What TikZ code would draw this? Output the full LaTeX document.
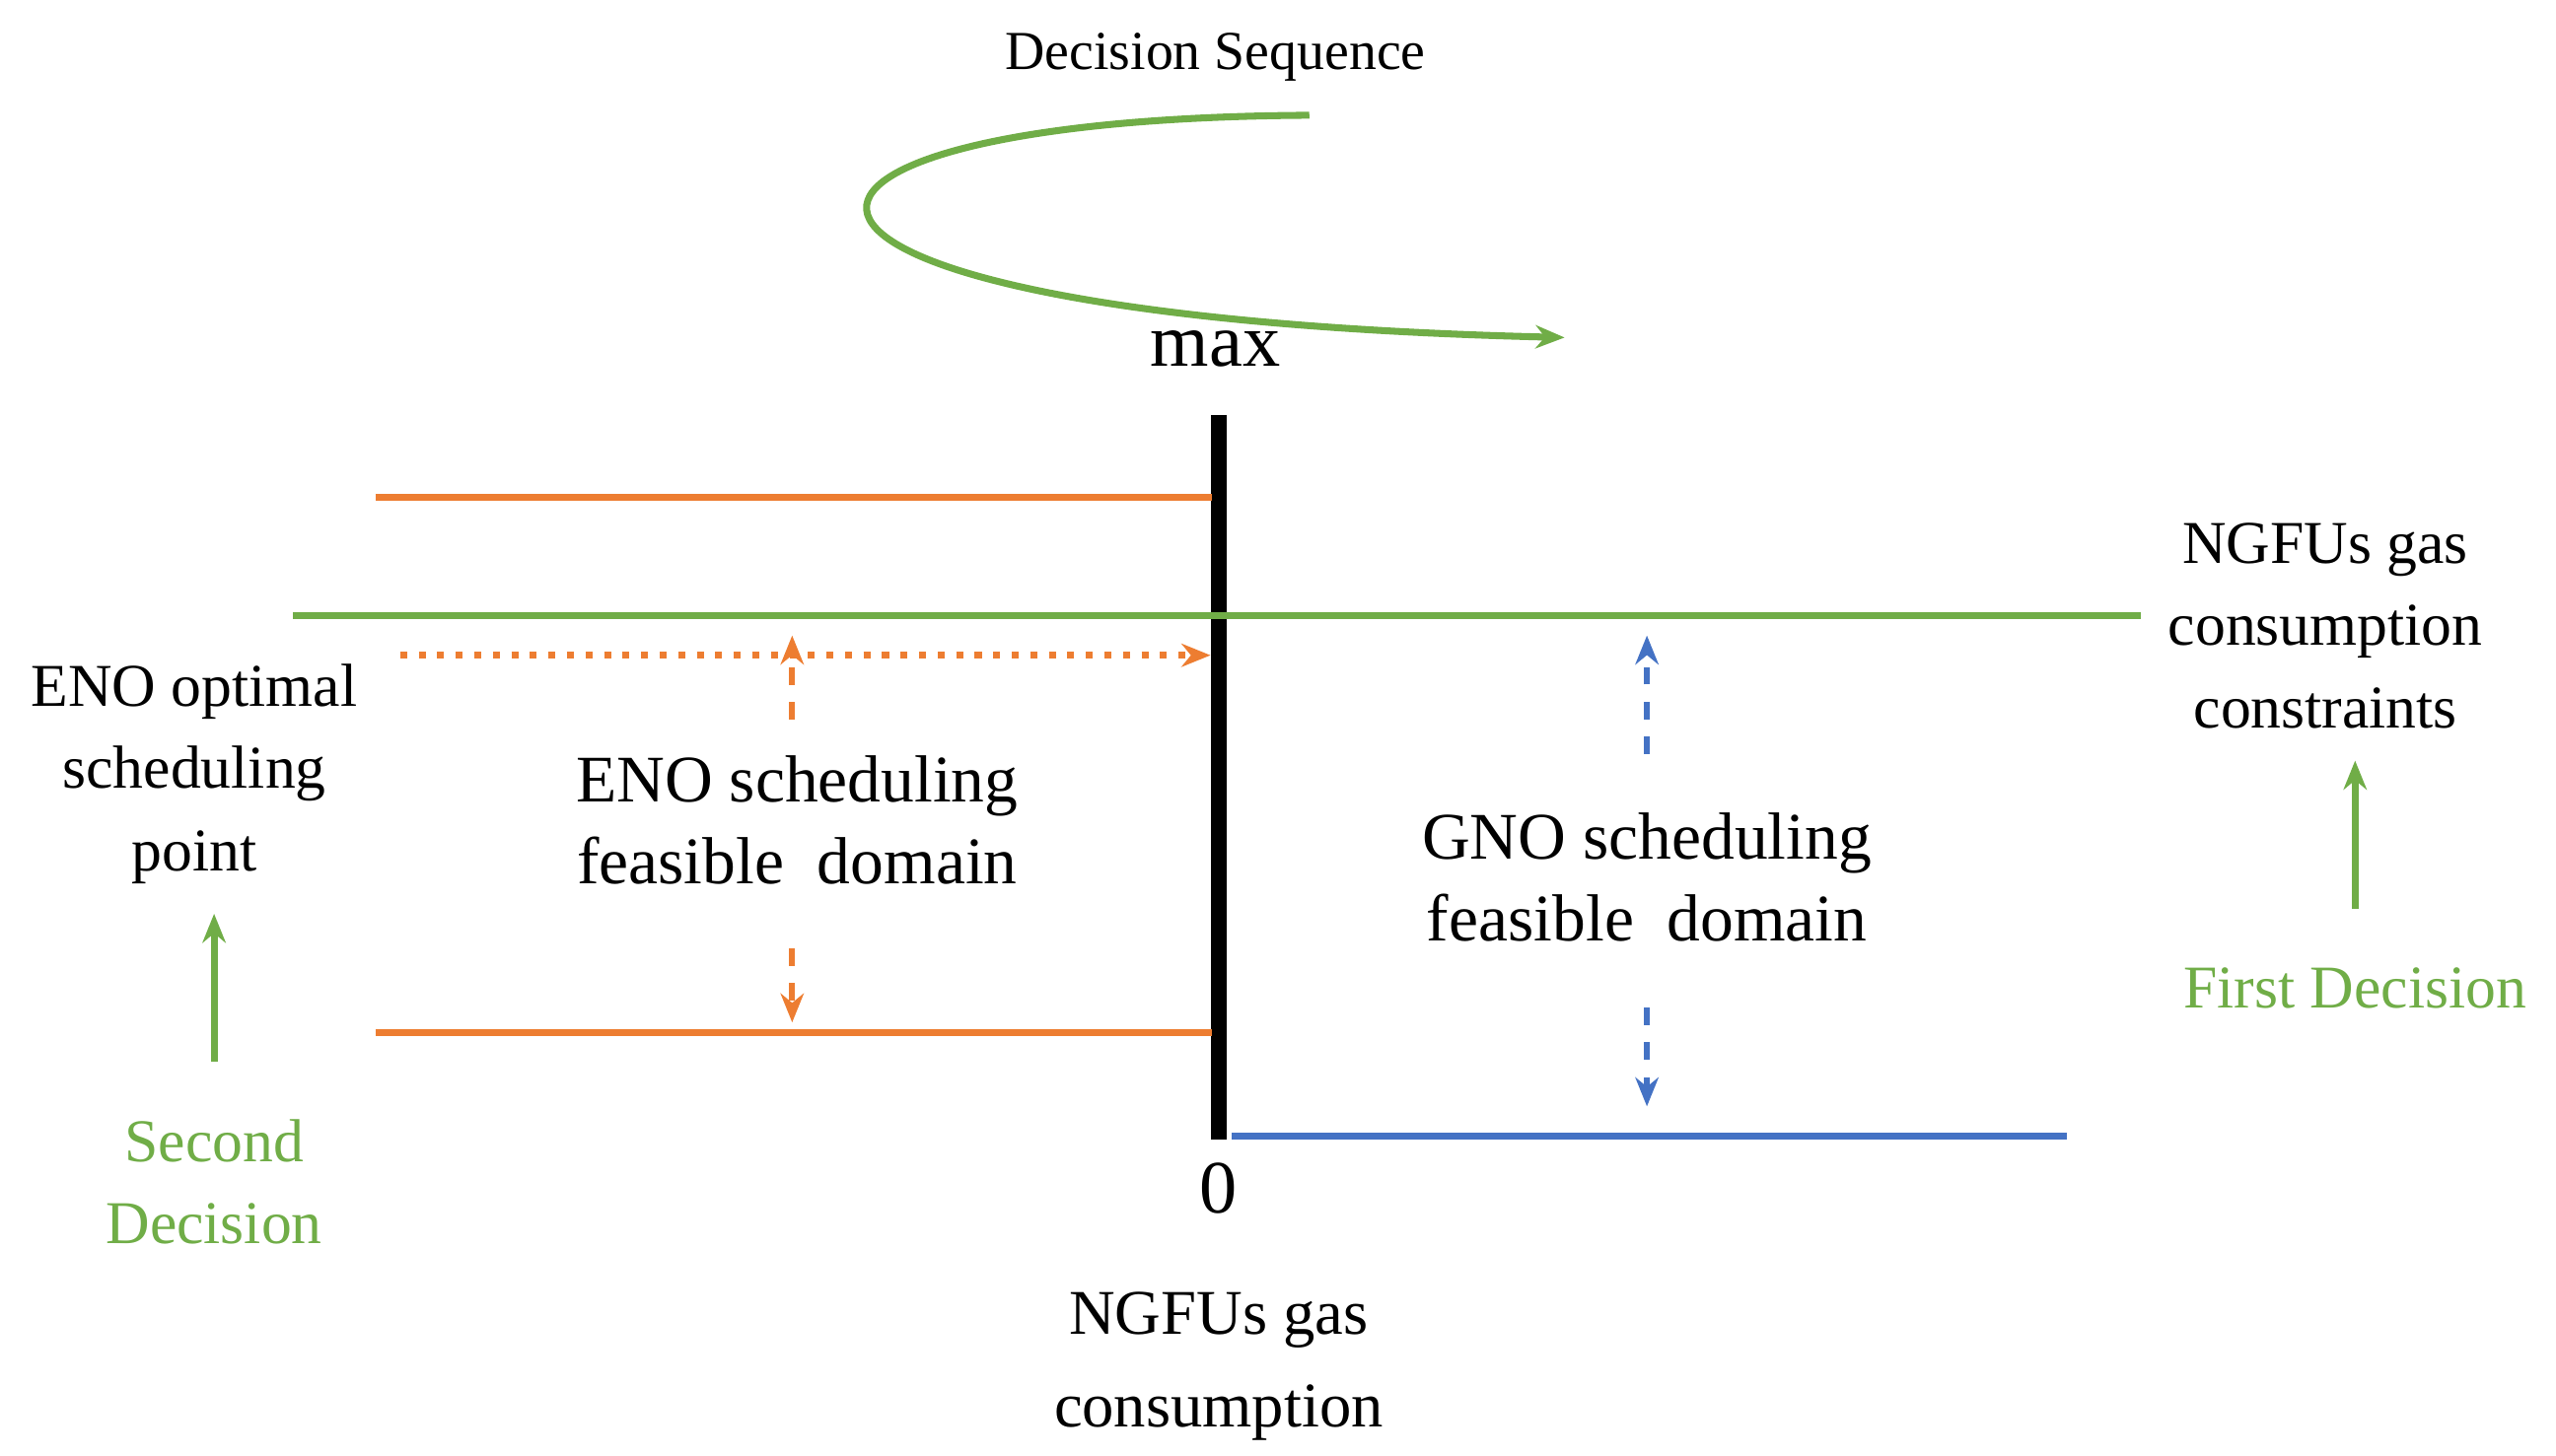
\documentclass[tikz,border=0pt]{standalone}
\usepackage{fontspec}
\setmainfont{Liberation Serif}
\usetikzlibrary{arrows.meta}
\definecolor{og}{HTML}{ED7D31}
\definecolor{gr}{HTML}{70AD47}
\definecolor{bl}{HTML}{4472C4}
\begin{document}
\begin{tikzpicture}[x=0.01cm,y=-0.01cm,
  txt/.style={align=center,font=\fontsize{11.5pt}{14.2pt}\selectfont,inner sep=0},
  gtxt/.style={txt,text=gr},
  oline/.style={og,line width=1.2pt},
  arr/.style={-{Stealth[length=5pt,width=4pt]}}]
\useasboundingbox (0,0) rectangle (1552,884);
\node[font=\fontsize{9.5pt}{11pt}\selectfont,inner sep=0] (ds) at (738,35) {Decision Sequence};
\coordinate (cs) at (795,70); \coordinate (ce) at (950,205);
\draw[gr,line width=1.2pt,arr] (cs) .. controls (420,72) and (410,192) .. (ce);
\node[font=\fontsize{13pt}{15pt}\selectfont,inner sep=0] (mx) at (738,212) {max};
\node[font=\fontsize{13pt}{15pt}\selectfont,inner sep=0] (zr) at (740,722) {0};
\coordinate (vt) at (740,252); \coordinate (vb) at (740,692);
\draw[line width=2.8pt] (vt) -- (vb);
\coordinate (o1a) at (228,302); \coordinate (o1b) at (736,302);
\coordinate (o2a) at (228,627); \coordinate (o2b) at (736,627);
\draw[oline] (o1a) -- (o1b); \draw[oline] (o2a) -- (o2b);
\coordinate (ga) at (178,374); \coordinate (gb) at (1300,374);
\draw[gr,line width=1.2pt] (ga) -- (gb);
\coordinate (da) at (243,398); \coordinate (db) at (735,398);
\draw[og,line width=1.2pt,dotted,arr] (da) -- (db);
\coordinate (e1a) at (481,437); \coordinate (e1b) at (481,386);
\coordinate (e2a) at (481,576); \coordinate (e2b) at (481,621);
\draw[og,line width=1pt,dashed,arr] (e1a) -- (e1b);
\draw[og,line width=1pt,dashed,arr] (e2a) -- (e2b);
\node[txt] (eno) at (484,498) {ENO scheduling\\feasible\ \ domain};
\coordinate (b1a) at (1000,458); \coordinate (b1b) at (1000,386);
\coordinate (b2a) at (1000,612); \coordinate (b2b) at (1000,672);
\draw[bl,line width=1pt,dashed,arr] (b1a) -- (b1b);
\draw[bl,line width=1pt,dashed,arr] (b2a) -- (b2b);
\node[txt] (gno) at (1000,533) {GNO scheduling\\feasible\ \ domain};
\coordinate (bla) at (748,690); \coordinate (blb) at (1255,690);
\draw[bl,line width=1.2pt] (bla) -- (blb);
\node[txt,font=\fontsize{10.5pt}{14.2pt}\selectfont] (opt) at (118,470) {ENO optimal\\scheduling\\point};
\node[gtxt,font=\fontsize{10.5pt}{14.2pt}\selectfont] (sd) at (130,718) {Second\\Decision};
\coordinate (s1) at (130,645); \coordinate (s2) at (130,555);
\draw[gr,line width=1.2pt,arr] (s1) -- (s2);
\node[txt,font=\fontsize{10.5pt}{14.2pt}\selectfont] (con) at (1412,380) {NGFUs gas\\consumption\\constraints};
\node[gtxt,font=\fontsize{10.5pt}{14.2pt}\selectfont] (fd) at (1430,600) {First Decision};
\coordinate (f1) at (1430,552); \coordinate (f2) at (1430,462);
\draw[gr,line width=1.2pt,arr] (f1) -- (f2);
\node[txt,font=\fontsize{11pt}{16pt}\selectfont] (bot) at (740,830) {NGFUs gas\\consumption};
\end{tikzpicture}
\end{document}
